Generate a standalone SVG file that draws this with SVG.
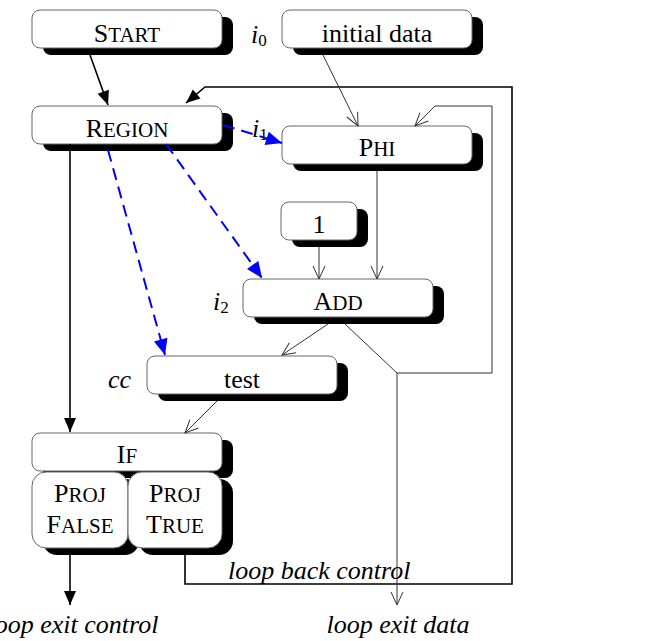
<svg xmlns="http://www.w3.org/2000/svg" width="653" height="641" viewBox="0 0 653 641">
<style>
.sh{fill:#000}
.bx{fill:#fff;stroke:#666;stroke-width:1}
.t{font-family:"Liberation Serif","Times New Roman",serif;font-size:26px;fill:#000;text-anchor:middle}
.sc{font-size:21px}
.lb{font-family:"Liberation Serif","Times New Roman",serif;font-size:26px;font-style:italic;fill:#000}
.sub{font-size:17px;font-style:normal}
.thin{fill:none;stroke:#333;stroke-width:1;marker-end:url(#open)}
.thick{fill:none;stroke:#000;stroke-width:1.6;marker-end:url(#solid)}
.blue{fill:none;stroke:#0000ff;stroke-width:2;stroke-dasharray:12 7;marker-end:url(#bluehead)}
</style>
<defs>
<marker id="open" markerUnits="userSpaceOnUse" viewBox="-14 -8 16 16" markerWidth="16" markerHeight="16" refX="0" refY="0" orient="auto">
<path d="M-13,-6 L0,0 L-13,6" fill="none" stroke="#333" stroke-width="1"/>
</marker>
<marker id="solid" markerUnits="userSpaceOnUse" viewBox="-16 -8 18 16" markerWidth="18" markerHeight="16" refX="0" refY="0" orient="auto">
<path d="M-14,-6 L0,0 L-14,6 Z" fill="#000"/>
</marker>
<marker id="bluehead" markerUnits="userSpaceOnUse" viewBox="-18 -9 20 18" markerWidth="20" markerHeight="18" refX="0" refY="0" orient="auto">
<path d="M-16,-7 L0,0 L-16,7 Z" fill="#0000ff"/>
</marker>
</defs>

<g id="start">
<rect class="sh" x="43" y="17" width="190" height="38" rx="8"/>
<rect class="bx" x="32" y="10" width="190" height="38" rx="8"/>
<text class="t" x="127" y="42">S<tspan class="sc">TART</tspan></text>
</g>
<g id="initial-data">
<rect class="sh" x="293" y="17" width="190" height="38" rx="8"/>
<rect class="bx" x="282" y="10" width="190" height="38" rx="8"/>
<text class="t" x="377" y="42">initial data</text>
</g>
<g id="region">
<rect class="sh" x="43" y="113" width="190" height="38" rx="8"/>
<rect class="bx" x="32" y="106" width="190" height="38" rx="8"/>
<text class="t" x="127" y="137">R<tspan class="sc">EGION</tspan></text>
</g>
<g id="phi">
<rect class="sh" x="293" y="133" width="190" height="38" rx="8"/>
<rect class="bx" x="282" y="126" width="190" height="38" rx="8"/>
<text class="t" x="377" y="156">P<tspan class="sc">HI</tspan></text>
</g>
<g id="one">
<rect class="sh" x="292" y="209" width="76" height="38" rx="8"/>
<rect class="bx" x="281" y="202" width="76" height="38" rx="8"/>
<text class="t" x="319" y="233">1</text>
</g>
<g id="add">
<rect class="sh" x="254" y="286" width="190" height="38" rx="8"/>
<rect class="bx" x="243" y="279" width="190" height="38" rx="8"/>
<text class="t" x="338" y="310">A<tspan class="sc">DD</tspan></text>
</g>
<g id="test">
<rect class="sh" x="158" y="363" width="190" height="38" rx="8"/>
<rect class="bx" x="147" y="356" width="190" height="38" rx="8"/>
<text class="t" x="242" y="388">test</text>
</g>
<g id="if">
<rect class="sh" x="43" y="440" width="190" height="38" rx="8"/>
<rect class="bx" x="32" y="433" width="190" height="38" rx="8"/>
<text class="t" x="127" y="463">I<tspan class="sc">F</tspan></text>
</g>
<g id="proj-false">
<rect class="sh" x="43" y="479" width="96" height="76" rx="14"/>
<rect class="bx" x="32" y="472" width="96" height="76" rx="14"/>
<text class="t" x="80" y="502">P<tspan class="sc">ROJ</tspan></text>
<text class="t" x="80" y="533">F<tspan class="sc">ALSE</tspan></text>
</g>
<g id="proj-true">
<rect class="sh" x="139" y="479" width="94" height="76" rx="14"/>
<rect class="bx" x="128" y="472" width="94" height="76" rx="14"/>
<text class="t" x="175" y="502">P<tspan class="sc">ROJ</tspan></text>
<text class="t" x="175" y="533">T<tspan class="sc">RUE</tspan></text>
</g>

<g id="connectors">
<path class="thick" d="M90,55 L108,105"/>
<path class="thick" d="M185,555 L185,584 L512,584 L512,87 L205,87 L186,103"/>
<path class="thick" d="M70,144 L70,432"/>
<path class="thick" d="M70,555 L70,605"/>
<path class="thin" d="M323,55 L358,126"/>
<path class="thin" d="M345,324 L397,373 L492,373 L492,106 L435,106 L415,126"/>
<path class="thin" d="M397,373 L397,605"/>
<path class="thin" d="M377,171 L377,279"/>
<path class="thin" d="M319,247 L319,279"/>
<path class="thin" d="M328,324 L282,355"/>
<path class="thin" d="M217,401 L185,433"/>
<path class="blue" d="M223,125 L282,143"/>
<path class="blue" d="M166,144 L262,278"/>
<path class="blue" d="M108,150 L165,355"/>
</g>

<g id="labels">
<text class="lb" x="251" y="43">i<tspan class="sub" dy="3">0</tspan></text>
<text class="lb" x="252" y="137">i<tspan class="sub" dy="3">1</tspan></text>
<text class="lb" x="213" y="310">i<tspan class="sub" dy="3">2</tspan></text>
<text class="lb" x="108" y="388">cc</text>
<text class="lb" x="228" y="579">loop back control</text>
<text class="lb" x="73" y="633" text-anchor="middle">loop exit control</text>
<text class="lb" x="398" y="633" text-anchor="middle">loop exit data</text>
</g>
</svg>
